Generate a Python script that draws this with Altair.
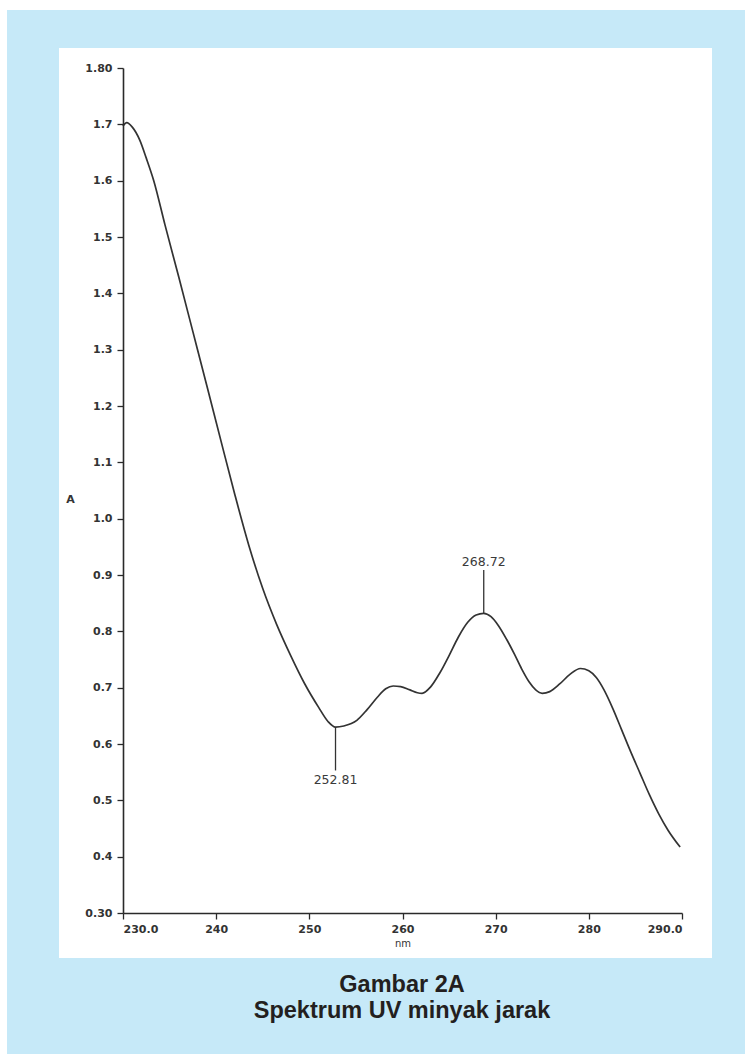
import altair as alt
import pandas as pd

# UV absorption spectrum of castor oil (minyak jarak)
wavelength_nm = [230.0, 230.4, 231.0, 231.8, 232.5, 233.3, 234.5, 236.0, 237.5, 239.0,
                 240.5, 242.0, 243.5, 245.0, 246.5, 248.0, 249.5, 251.0, 252.0, 252.81,
                 253.7, 255.1, 256.2, 257.3, 258.2, 259.0, 259.8, 260.8, 261.6, 262.1,
                 263.0, 264.0, 265.0, 266.0, 267.0, 267.9, 268.72, 269.5, 270.3, 271.2,
                 272.0, 272.8, 273.6, 274.3, 275.0, 275.8, 276.9, 278.0, 279.1, 280.0,
                 280.8, 281.6, 282.6, 283.5, 284.5, 285.5, 286.5, 287.5, 288.5, 289.8]
absorbance = [1.697, 1.703, 1.695, 1.672, 1.640, 1.600, 1.522, 1.428, 1.332, 1.236,
              1.139, 1.043, 0.953, 0.876, 0.812, 0.757, 0.707, 0.665, 0.640, 0.630,
              0.632, 0.642, 0.661, 0.683, 0.698, 0.703, 0.702, 0.696, 0.691, 0.690,
              0.701, 0.726, 0.757, 0.790, 0.816, 0.829, 0.832, 0.826, 0.810, 0.785,
              0.760, 0.733, 0.710, 0.696, 0.690, 0.693, 0.707, 0.724, 0.734, 0.730,
              0.718, 0.697, 0.662, 0.626, 0.586, 0.548, 0.510, 0.476, 0.447, 0.417]

# peak / valley markers: position, absorbance at the curve, end of the leader line
marker_nm = [252.81, 268.72]
marker_abs = [0.630, 0.832]
marker_tip = [0.553, 0.909]
marker_text = ["252.81", "268.72"]

x_ticks = [230, 240, 250, 260, 270, 280, 290]
y_ticks = [0.3, 0.4, 0.5, 0.6, 0.7, 0.8, 0.9, 1.0, 1.1, 1.2, 1.3, 1.4, 1.5, 1.6, 1.7, 1.8]
caption = ["Gambar 2A", "Spektrum UV minyak jarak"]

BLUE = "#c6e9f8"
INK = "#2a2a2a"
TICK_FONT = "DejaVu Sans"

spectrum = pd.DataFrame({"nm": wavelength_nm, "A": absorbance})
markers = pd.DataFrame({"nm": marker_nm, "A": marker_abs, "tip": marker_tip,
                        "label": marker_text})
one = pd.DataFrame({"k": [0]})

x_scale = alt.Scale(domain=[230, 290], nice=False, zero=False)
y_scale = alt.Scale(domain=[0.3, 1.8], nice=False, zero=False)

# light-blue page frame and the white card behind the plot
blue_frame = alt.Chart(one).mark_rect(color=BLUE).encode(
    x=alt.value(-116), x2=alt.value(700), y=alt.value(-58), y2=alt.value(1000))
white_panel = alt.Chart(one).mark_rect(color="white").encode(
    x=alt.value(-64), x2=alt.value(589), y=alt.value(-20), y2=alt.value(890))

line = alt.Chart(spectrum).mark_line(
    color="#333333", strokeWidth=1.7, interpolate="monotone").encode(
    x=alt.X("nm:Q", scale=x_scale,
            axis=alt.Axis(values=x_ticks, title="nm", tickSize=6, labelPadding=4,
                          titlePadding=4, titleFontSize=10, titleFontWeight="normal",
                          zindex=1,
                          labelExpr="datum.value == 230 || datum.value == 290 ? format(datum.value, '.1f') : format(datum.value, 'd')")),
    y=alt.Y("A:Q", scale=y_scale,
            axis=alt.Axis(values=y_ticks, title="A", tickSize=6, labelPadding=5,
                          titleAngle=0, titleX=-53, titleY=431, titleAlign="center",
                          titleBaseline="middle", titleFontSize=11, titleFontWeight="bold",
                          zindex=1,
                          labelExpr="datum.value < 0.35 || datum.value > 1.75 ? format(datum.value, '.2f') : format(datum.value, '.1f')")),
)

rules = alt.Chart(markers).mark_rule(color="#333333", strokeWidth=1.3).encode(
    x=alt.X("nm:Q", scale=x_scale), y=alt.Y("A:Q", scale=y_scale), y2="tip:Q")

labels_above = alt.Chart(markers).transform_filter("datum.tip > datum.A").mark_text(
    font="DejaVu Sans", fontSize=12.5, color="#3a3a3a", baseline="bottom", dy=-1).encode(
    x=alt.X("nm:Q", scale=x_scale), y=alt.Y("tip:Q", scale=y_scale), text="label:N")
labels_below = alt.Chart(markers).transform_filter("datum.tip < datum.A").mark_text(
    font="DejaVu Sans", fontSize=12.5, color="#3a3a3a", baseline="top", dy=4).encode(
    x=alt.X("nm:Q", scale=x_scale), y=alt.Y("tip:Q", scale=y_scale), text="label:N")

cap1 = alt.Chart(one).mark_text(font="Liberation Sans", fontSize=23.5, fontWeight="bold",
                                color="#231f20", baseline="alphabetic").encode(
    x=alt.value(279), y=alt.value(924), text=alt.value(caption[0]))
cap2 = alt.Chart(one).mark_text(font="Liberation Sans", fontSize=23.5, fontWeight="bold",
                                color="#231f20", baseline="alphabetic").encode(
    x=alt.value(279), y=alt.value(950), text=alt.value(caption[1]))

chart = alt.layer(blue_frame, white_panel, line, rules, labels_above, labels_below,
                  cap1, cap2).properties(
    width=559, height=845,
    autosize=alt.AutoSizeParams(type="none"),
    padding={"left": 123, "top": 68, "right": 63, "bottom": 141},
    background="white",
).configure_view(stroke=None).configure_axis(
    grid=False, domainColor=INK, domainWidth=1.6, tickColor=INK, tickWidth=1.3,
    labelFont=TICK_FONT, labelFontWeight="bold", labelFontSize=11,
    labelColor="#333333", titleFont=TICK_FONT, titleColor="#333333",
)

chart.save("out.html", embed_options={"renderer": "svg", "actions": False})
